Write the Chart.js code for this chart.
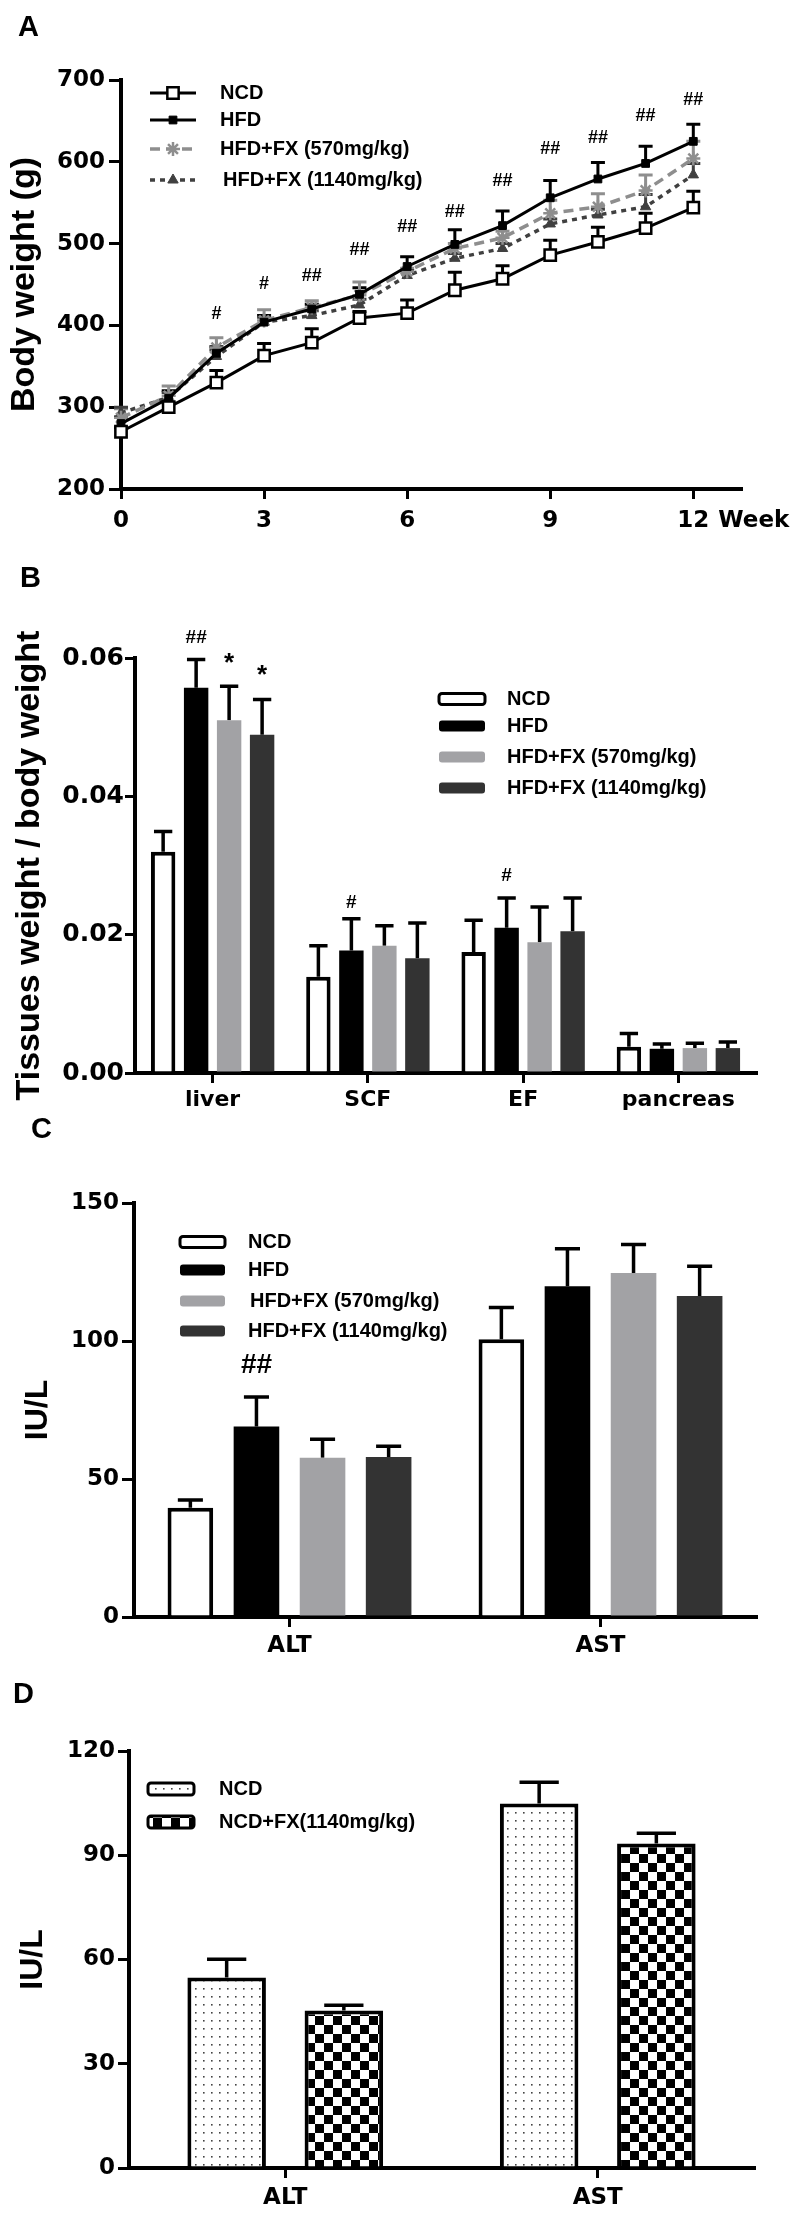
<!doctype html>
<html lang="en">
<head>
<meta charset="utf-8">
<title>Body weight, tissue weight and serum ALT / AST</title>
<script src="https://cdn.jsdelivr.net/npm/chart.js"></script>
<style>
  body { margin: 0; background: #fff; }
  #fig { position: relative; width: 797px; height: 2215px; overflow: hidden; }
  #fig canvas { position: absolute; left: 0; }
  .letter { position: absolute; font: bold 29px "Liberation Sans", Arial, sans-serif; line-height: 1; color: #000; }
</style>
</head>
<body>
<div id="fig">
  <canvas id="chartA" width="797" height="560" style="top:0"></canvas>
  <canvas id="chartB" width="797" height="580" style="top:545px"></canvas>
  <canvas id="chartC" width="797" height="580" style="top:1105px"></canvas>
  <canvas id="chartD" width="797" height="550" style="top:1665px"></canvas>
  <div class="letter" style="left:18px;top:12px">A</div>
  <div class="letter" style="left:20px;top:563px">B</div>
  <div class="letter" style="left:31px;top:1114px">C</div>
  <div class="letter" style="left:13px;top:1679px">D</div>
</div>
<script>
// ---- A: body weight (g) per week, mean and SEM
const weeks = [0, 1, 2, 3, 4, 5, 6, 7, 8, 9, 10, 11, 12];
const weekTicks = [0, 3, 6, 9, 12];
const weightTicks = [200, 300, 400, 500, 600, 700];
const ncdWeight = [270, 300, 330, 363, 379, 409, 415, 443, 457, 486, 502, 519, 544];
const ncdWeightSem = [5, 5, 15, 15, 17, 8, 16, 22, 16, 18, 18, 18, 20];
const hfdWeight = [280, 311, 366, 404, 420, 438, 472, 499, 522, 556, 579, 598, 625];
const hfdWeightSem = [8, 9, 8, 8, 6, 8, 12, 18, 18, 21, 20, 21, 21];
const fx570Weight = [287, 314, 373, 406, 422, 437, 466, 494, 507, 537, 545, 565, 604];
const fx570WeightSem = [11, 12, 12, 13, 8, 16, 4, 6, 8, 16, 16, 19, 21];
const fx1140Weight = [293, 312, 362, 404, 412, 425, 461, 482, 494, 524, 535, 545, 584];
const fx1140WeightSem = [7, 6, 8, 6, 6, 7, 6, 6, 6, 6, 7, 15, 14];
const weightSig = ['', '', '#', '#', '##', '##', '##', '##', '##', '##', '##', '##', '##'];
const weightSigY = [null, null, 416, 453, 462, 494, 522, 541, 578, 618, 631, 658, 677];

// ---- B: tissue weight / body weight
const tissues = ['liver', 'SCF', 'EF', 'pancreas'];
const tissueTicks = [0, 0.02, 0.04, 0.06];
const ncdTissue = [0.0320, 0.0139, 0.0175, 0.0038];
const ncdTissueSem = [0.0029, 0.0045, 0.0046, 0.0019];
const hfdTissue = [0.0557, 0.0177, 0.0210, 0.0035];
const hfdTissueSem = [0.0041, 0.0046, 0.0043, 0.0007];
const fx570Tissue = [0.0510, 0.0184, 0.0189, 0.0036];
const fx570TissueSem = [0.0049, 0.0029, 0.0051, 0.0007];
const fx1140Tissue = [0.0489, 0.0166, 0.0205, 0.0036];
const fx1140TissueSem = [0.0051, 0.0051, 0.0048, 0.0009];
// [dataset, category, text, y]
const tissueSig = [[1, 0, '##', 0.0631], [2, 0, '*', 0.0603], [3, 0, '*', 0.0585], [1, 1, '#', 0.0249], [1, 2, '#', 0.0288]];

// ---- C: serum enzymes, HFD study (IU/L)
const enzymes = ['ALT', 'AST'];
const enzymeTicks = [0, 50, 100, 150];
const ncdEnzyme = [39.6, 100.6];
const ncdEnzymeSem = [2.8, 11.5];
const hfdEnzyme = [69.0, 119.8];
const hfdEnzymeSem = [10.7, 13.6];
const fx570Enzyme = [57.7, 124.6];
const fx570EnzymeSem = [6.7, 10.4];
const fx1140Enzyme = [58.0, 116.3];
const fx1140EnzymeSem = [3.9, 10.8];
const enzymeSig = [[1, 0, '##', 92]];

// ---- D: serum enzymes, NCD study (IU/L)
const safetyTicks = [0, 30, 60, 90, 120];
const ncdSafety = [54.8, 104.9];
const ncdSafetySem = [5.3, 6.1];
const ncdFxSafety = [45.3, 93.4];
const ncdFxSafetySem = [1.5, 2.9];

const FONT_TEXT = '"Liberation Sans", Arial, sans-serif';
const FONT_TICK = '"DejaVu Sans", sans-serif';

// upper SEM whiskers, drawn from each point / bar top
const errorBars = {
  id: 'errorBars',
  beforeDatasetsDraw(chart, args, o) {
    const ctx = chart.ctx;
    chart.data.datasets.forEach((ds, di) => {
      if (!ds.sem) return;
      const meta = chart.getDatasetMeta(di);
      const ys = chart.scales[meta.yAxisID];
      ctx.save();
      ctx.strokeStyle = ds.errorColor || '#000';
      ctx.lineWidth = o.width;
      meta.data.forEach((el, i) => {
        const v = ds.data[i];
        const mean = typeof v === 'object' ? v.y : v;
        const base = ys.getPixelForValue(mean);
        const top = ys.getPixelForValue(mean + ds.sem[i]);
        const half = o.cap ? o.cap : el.width * o.capRatio / 2;
        ctx.beginPath();
        ctx.moveTo(el.x, base);
        ctx.lineTo(el.x, top);
        ctx.moveTo(el.x - half, top);
        ctx.lineTo(el.x + half, top);
        ctx.stroke();
      });
      ctx.restore();
    });
  }
};

// # / ## / * marks
const sigMarks = {
  id: 'sigMarks',
  afterDatasetsDraw(chart, args, o) {
    if (!o.items) return;
    const ctx = chart.ctx;
    o.items.forEach(m => {
      const x = m.ds !== undefined ? chart.getDatasetMeta(m.ds).data[m.i].x : chart.scales.x.getPixelForValue(m.x);
      const y = chart.scales.y.getPixelForValue(m.y);
      const size = m.text === '*' ? o.starSize : o.size;
      ctx.save();
      ctx.font = 'bold ' + size + 'px ' + FONT_TEXT;
      ctx.fillStyle = '#000';
      ctx.textAlign = 'center';
      ctx.textBaseline = 'alphabetic';
      ctx.fillText(m.text, x, y + (m.text === '*' ? 0.58 : 0.36) * size);
      ctx.restore();
    });
  }
};

const panelLegend = {
  id: 'panelLegend',
  afterDraw(chart, args, o) {
    if (!o.ys) return;
    const ctx = chart.ctx;
    chart.data.datasets.forEach((ds, i) => {
      const y = o.ys[i];
      ctx.save();
      if (o.kind === 'line') {
        ctx.strokeStyle = ds.borderColor;
        ctx.lineWidth = ds.borderWidth;
        ctx.setLineDash(ds.borderDash || []);
        ctx.beginPath();
        ctx.moveTo(o.x0, y);
        ctx.lineTo(o.x1, y);
        ctx.stroke();
        ctx.setLineDash([]);
        ctx.fillStyle = ds.pointBackgroundColor;
        ctx.strokeStyle = ds.pointBorderColor;
        ctx.lineWidth = ds.pointBorderWidth;
        Chart.helpers.drawPoint(ctx, {pointStyle: ds.pointStyle, radius: ds.pointRadius, rotation: 0, borderWidth: ds.pointBorderWidth}, (o.x0 + o.x1) / 2, y);
      } else {
        ctx.beginPath();
        ctx.roundRect(o.x0, y - o.h / 2, o.x1 - o.x0, o.h, 3);
        ctx.fillStyle = ds.backgroundColor;
        ctx.fill();
        if (ds.borderWidth) {
          ctx.lineWidth = 3;
          ctx.strokeStyle = ds.borderColor;
          ctx.stroke();
        }
      }
      ctx.fillStyle = '#000';
      ctx.font = 'bold ' + o.size + 'px ' + FONT_TEXT;
      ctx.textAlign = 'left';
      ctx.textBaseline = 'middle';
      ctx.fillText(ds.label, Array.isArray(o.textX) ? o.textX[i] : o.textX, y);
      ctx.restore();
    });
  }
};

// "Week" written after the last x tick label of panel A
const weekUnit = {
  id: 'weekUnit',
  afterDraw(chart) {
    const sx = chart.scales.x;
    const ctx = chart.ctx;
    const last = weekTicks[weekTicks.length - 1];
    const px = sx.getPixelForValue(last);
    ctx.save();
    ctx.font = 'bold 23px ' + FONT_TICK;
    ctx.fillStyle = '#000';
    const w = ctx.measureText(String(last)).width;
    let y = sx.top + 10 + 8, base = 'top';
    if (typeof sx.getLabelItems === 'function') {
      const it = sx.getLabelItems().find(t => String(t.label) === String(last));
      if (it) { y = it.options.translation[1] + (it.textOffset || 0); base = it.options.textBaseline; }
    }
    ctx.textBaseline = base;
    ctx.textAlign = 'left';
    ctx.fillText('Week', px + w / 2 + 9, y);
    ctx.restore();
  }
};

function yAxis(c) {
  return {
    min: c.ticks[0], max: c.ticks[c.ticks.length - 1],
    afterBuildTicks: s => { s.ticks = c.ticks.map(v => ({value: v})); },
    ticks: {color: '#000', font: {family: FONT_TICK, size: c.size, weight: 'bold'}, padding: c.pad, callback: c.fmt || (v => v)},
    grid: {drawOnChartArea: false, color: '#000', lineWidth: 3, tickLength: c.tickLen},
    border: {color: '#000', width: 4},
    title: {display: true, text: c.title, color: '#000', font: {family: FONT_TEXT, size: c.titleSize, weight: 'bold'}, padding: {top: c.titlePad, bottom: 0}},
    afterFit: s => { s.width = c.left; }
  };
}

function catAxis(c) {
  return {
    offset: true,
    ticks: {color: '#000', font: {family: FONT_TICK, size: c.size, weight: 'bold'}, padding: c.pad, maxRotation: 0, autoSkip: false},
    grid: {offset: false, drawOnChartArea: false, color: '#000', lineWidth: 3, tickLength: 10},
    border: {color: '#000', width: 4},
    afterFit: s => { s.height = c.height; }
  };
}

function baseOptions(pad) {
  return {
    responsive: false,
    animation: false,
    events: [],
    layout: {padding: pad},
    plugins: {legend: {display: false}, tooltip: {enabled: false}}
  };
}

function xy(values) {
  return weeks.map((w, i) => ({x: w, y: values[i]}));
}

// ---------------- A
const optA = baseOptions({left: 0, top: 80, right: 797 - 741, bottom: 0});
optA.scales = {
  x: {
    type: 'linear', min: 0, max: 13,
    afterBuildTicks: s => { s.ticks = weekTicks.map(v => ({value: v})); },
    ticks: {color: '#000', font: {family: FONT_TICK, size: 23, weight: 'bold'}, padding: 8, maxRotation: 0},
    grid: {drawOnChartArea: false, color: '#000', lineWidth: 3, tickLength: 10},
    border: {color: '#000', width: 4},
    afterFit: s => { s.height = 560 - 489; }
  },
  y: yAxis({ticks: weightTicks, size: 23, pad: 4, tickLen: 12, left: 121, title: 'Body weight (g)', titleSize: 34, titlePad: 4})
};
optA.plugins.errorBars = {width: 3, cap: 7};
optA.plugins.sigMarks = {size: 18, items: weeks.filter((w, i) => weightSig[i]).map(w => ({x: w, y: weightSigY[w], text: weightSig[w]}))};
optA.plugins.panelLegend = {kind: 'line', x0: 150, x1: 196, textX: [220, 220, 220, 223], ys: [93, 120, 149, 180], size: 20};

new Chart(document.getElementById('chartA'), {
  type: 'line',
  data: {
    datasets: [
      {label: 'NCD', data: xy(ncdWeight), sem: ncdWeightSem, errorColor: '#000', borderColor: '#000', borderWidth: 3,
       pointStyle: 'rect', pointRadius: 8, pointBackgroundColor: '#fff', pointBorderColor: '#000', pointBorderWidth: 2.5, clip: false},
      {label: 'HFD', data: xy(hfdWeight), sem: hfdWeightSem, errorColor: '#000', borderColor: '#000', borderWidth: 3,
       pointStyle: 'rect', pointRadius: 5.5, pointBackgroundColor: '#000', pointBorderColor: '#000', pointBorderWidth: 1, clip: false},
      {label: 'HFD+FX (570mg/kg)', data: xy(fx570Weight), sem: fx570WeightSem, errorColor: '#8e8e8e', borderColor: '#8e8e8e', borderWidth: 3.5, borderDash: [10, 6],
       pointStyle: 'star', pointRadius: 7, pointBackgroundColor: '#8e8e8e', pointBorderColor: '#8e8e8e', pointBorderWidth: 2.5, clip: false},
      {label: 'HFD+FX (1140mg/kg)', data: xy(fx1140Weight), sem: fx1140WeightSem, errorColor: '#404040', borderColor: '#404040', borderWidth: 3.5, borderDash: [5, 5],
       pointStyle: 'triangle', pointRadius: 6, pointBackgroundColor: '#404040', pointBorderColor: '#404040', pointBorderWidth: 1, clip: false}
    ]
  },
  options: optA,
  plugins: [errorBars, sigMarks, panelLegend, weekUnit]
});

// ---------------- B
const optB = baseOptions({left: 0, top: 113, right: 797 - 756, bottom: 0});
optB.scales = {
  x: catAxis({size: 22, pad: 4, height: 580 - 528}),
  y: yAxis({ticks: tissueTicks, size: 25, pad: 1, tickLen: 10, left: 135, title: 'Tissues weight / body weight', titleSize: 34, titlePad: 9, fmt: v => v.toFixed(2)})
};
optB.datasets = {bar: {categoryPercentage: 0.85, barPercentage: 0.74, borderSkipped: 'start'}};
optB.plugins.errorBars = {width: 3.5, capRatio: 0.75};
optB.plugins.sigMarks = {size: 19, starSize: 26, items: tissueSig.map(s => ({ds: s[0], i: s[1], text: s[2], y: s[3]}))};
optB.plugins.panelLegend = {kind: 'box', x0: 439, x1: 485, h: 11, textX: 507, ys: [154, 181, 212, 243], size: 20};

new Chart(document.getElementById('chartB'), {
  type: 'bar',
  data: {
    labels: tissues,
    datasets: [
      {label: 'NCD', data: ncdTissue, sem: ncdTissueSem, backgroundColor: '#fff', borderColor: '#000', borderWidth: 4},
      {label: 'HFD', data: hfdTissue, sem: hfdTissueSem, backgroundColor: '#000', borderWidth: 0},
      {label: 'HFD+FX (570mg/kg)', data: fx570Tissue, sem: fx570TissueSem, backgroundColor: '#a2a2a5', borderWidth: 0},
      {label: 'HFD+FX (1140mg/kg)', data: fx1140Tissue, sem: fx1140TissueSem, backgroundColor: '#333333', borderWidth: 0}
    ]
  },
  options: optB,
  plugins: [errorBars, sigMarks, panelLegend]
});

// ---------------- C
const optC = baseOptions({left: 0, top: 98, right: 797 - 756, bottom: 0});
optC.scales = {
  x: catAxis({size: 23, pad: 5, height: 580 - 512}),
  y: yAxis({ticks: enzymeTicks, size: 23, pad: 3, tickLen: 12, left: 134, title: 'IU/L', titleSize: 32, titlePad: 19})
};
optC.datasets = {bar: {categoryPercentage: 0.85, barPercentage: 0.69, borderSkipped: 'start'}};
optC.plugins.errorBars = {width: 3.5, capRatio: 0.55};
optC.plugins.sigMarks = {size: 28, items: enzymeSig.map(s => ({ds: s[0], i: s[1], text: s[2], y: s[3]}))};
optC.plugins.panelLegend = {kind: 'box', x0: 180, x1: 225, h: 11, textX: [248, 248, 250, 248], ys: [137, 165, 196, 226], size: 20};

new Chart(document.getElementById('chartC'), {
  type: 'bar',
  data: {
    labels: enzymes,
    datasets: [
      {label: 'NCD', data: ncdEnzyme, sem: ncdEnzymeSem, backgroundColor: '#fff', borderColor: '#000', borderWidth: 4},
      {label: 'HFD', data: hfdEnzyme, sem: hfdEnzymeSem, backgroundColor: '#000', borderWidth: 0},
      {label: 'HFD+FX (570mg/kg)', data: fx570Enzyme, sem: fx570EnzymeSem, backgroundColor: '#a2a2a5', borderWidth: 0},
      {label: 'HFD+FX (1140mg/kg)', data: fx1140Enzyme, sem: fx1140EnzymeSem, backgroundColor: '#333333', borderWidth: 0}
    ]
  },
  options: optC,
  plugins: [errorBars, sigMarks, panelLegend]
});

// ---------------- D
const canvasD = document.getElementById('chartD');
const ctxD = canvasD.getContext('2d');

function dotFill() {
  const c = document.createElement('canvas');
  c.width = 8; c.height = 8;
  const g = c.getContext('2d');
  g.fillStyle = '#fff'; g.fillRect(0, 0, 8, 8);
  g.fillStyle = '#444'; g.fillRect(3, 3, 1.6, 1.6);
  return ctxD.createPattern(c, 'repeat');
}
function checkerFill() {
  const c = document.createElement('canvas');
  c.width = 18; c.height = 18;
  const g = c.getContext('2d');
  g.fillStyle = '#fff'; g.fillRect(0, 0, 18, 18);
  g.fillStyle = '#000'; g.fillRect(0, 0, 9, 9); g.fillRect(9, 9, 9, 9);
  return ctxD.createPattern(c, 'repeat');
}

const optD = baseOptions({left: 0, top: 86, right: 797 - 754, bottom: 0});
optD.scales = {
  x: catAxis({size: 23, pad: 6, height: 550 - 503}),
  y: yAxis({ticks: safetyTicks, size: 23, pad: 3, tickLen: 11, left: 129, title: 'IU/L', titleSize: 32, titlePad: 14})
};
optD.datasets = {bar: {categoryPercentage: 0.75, barPercentage: 0.67, borderSkipped: 'start'}};
optD.plugins.errorBars = {width: 3.5, capRatio: 0.5};
optD.plugins.panelLegend = {kind: 'box', x0: 148, x1: 194, h: 12, textX: 219, ys: [124, 157], size: 20};

new Chart(canvasD, {
  type: 'bar',
  data: {
    labels: enzymes,
    datasets: [
      {label: 'NCD', data: ncdSafety, sem: ncdSafetySem, backgroundColor: dotFill(), borderColor: '#000', borderWidth: 4},
      {label: 'NCD+FX(1140mg/kg)', data: ncdFxSafety, sem: ncdFxSafetySem, backgroundColor: checkerFill(), borderColor: '#000', borderWidth: 4}
    ]
  },
  options: optD,
  plugins: [errorBars, panelLegend]
});
</script>
</body>
</html>
